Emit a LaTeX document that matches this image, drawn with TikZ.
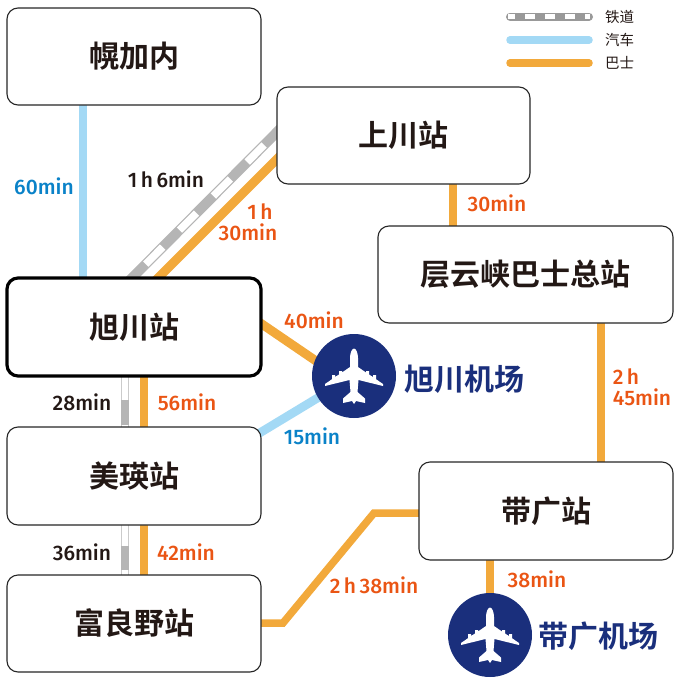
\documentclass[tikz,border=0pt]{standalone}
\usepackage{fontspec}
\newfontfamily\numfont{Fira Sans Medium}
\newfontfamily\cjk{Noto Sans CJK SC}[BoldFont={Noto Sans CJK SC Bold}]
\pgfdeclarelayer{lines}
\pgfsetlayers{lines,main}
\definecolor{busc}{HTML}{F2A93B}
\definecolor{carc}{HTML}{A3D9F5}
\definecolor{railc}{HTML}{B5B5B5}
\definecolor{orangetxt}{HTML}{EA5514}
\definecolor{bluetxt}{HTML}{0A82C8}
\definecolor{navy}{HTML}{1A2F7C}
\definecolor{inkc}{HTML}{231815}
\tikzset{
  x=1pt,y=-1pt,
  stationbox/.style={draw=black!85,line width=1.1pt,outer sep=0pt,rounded corners=11pt,fill=white,inner sep=0pt,
    font=\cjk\bfseries\fontsize{30}{32}\selectfont,text=inkc,anchor=north west},
  busline/.style={draw=busc,line width=7.5pt},
  busdiag/.style={draw=busc,line width=9pt},
  carline/.style={draw=carc,line width=7.5pt},
  cardiag/.style={draw=carc,line width=8.7pt},
  railbase/.style={draw=railc,line width=10pt},
  railwhite/.style={draw=white,line width=7.5pt},
  timelabel/.style={font=\numfont\fontsize{21}{23}\selectfont,inner sep=0pt,yshift=0.7pt},
  orangelabel/.style={timelabel,text=orangetxt},
  bluelabel/.style={timelabel,text=bluetxt},
  blacklabel/.style={timelabel,text=inkc},
  airportdisc/.style={circle,fill=navy,minimum size=84pt,inner sep=0pt,outer sep=0pt},
  airportname/.style={font=\cjk\bfseries\fontsize{30}{32}\selectfont,text=navy,inner sep=0pt},
  legendtext/.style={font=\cjk\fontsize{14.5}{16}\selectfont,text=inkc,inner sep=0pt,anchor=west},
  plane/.pic={
    \fill[white]
      (0,-27.5) .. controls (2,-27.5) and (4,-23) .. (4,-18) -- (4,-9)
      -- (12,-3.5) -- (12,-5) -- (15,-5) -- (15,-1.5) -- (19,1) -- (19,-1) -- (22,-1) -- (22,3.2)
      -- (29,8) -- (29,10) -- (4.5,4) -- (3.5,16) -- (11,22.5) -- (11,27) -- (2,25) -- (0,28)
      -- (-2,25) -- (-11,27) -- (-11,22.5) -- (-3.5,16) -- (-4.5,4) -- (-29,10) -- (-29,8)
      -- (-22,3.2) -- (-22,-1) -- (-19,-1) -- (-19,1) -- (-15,-1.5) -- (-15,-5) -- (-12,-5) -- (-12,-3.5)
      -- (-4,-9) -- (-4,-18) .. controls (-4,-23) and (-2,-27.5) .. (0,-27.5) -- cycle;
  }
}
\newcommand{\boxtext}[1]{\raisebox{1.5pt}{#1}}
\begin{document}
\begin{tikzpicture}
\useasboundingbox (0,0) rectangle (680,680);
% stations
\node[stationbox,minimum width=254pt,minimum height=97pt] (horokanai) at (7,8) {\boxtext{幌加内}};
\node[stationbox,minimum width=253pt,minimum height=97pt] (kamikawa) at (277,87) {\boxtext{上川站}};
\node[stationbox,minimum width=295pt,minimum height=97pt] (sounkyo) at (378,226) {\boxtext{层云峡巴士总站}};
\node[stationbox,draw=black,line width=3.2pt,minimum width=254pt,minimum height=98pt] (asahikawa) at (7,278) {\boxtext{旭川站}};
\node[stationbox,minimum width=254pt,minimum height=98pt] (biei) at (7,427) {\boxtext{美瑛站}};
\node[stationbox,minimum width=254pt,minimum height=97pt] (furano) at (7,575) {\boxtext{富良野站}};
\node[stationbox,minimum width=254pt,minimum height=98pt] (obihiro) at (419,462) {\boxtext{带广站}};
% airports
\node[airportdisc] (akj) at (354,376) {};
\node[airportdisc] (obo) at (490,635) {};
\pic at (akj.center) {plane};
\pic at (obo.center) {plane};
\node[airportname] (akjname) at (464,379) {旭川机场};
\node[airportname] (oboname) at (598,636) {带广机场};
% helper coordinates
\coordinate (kbend1) at (374,513);
\coordinate (kbend2) at (283,623);
\coordinate (akjin) at (330,370.5);
% connectors, on a layer under the boxes and discs
\begin{pgfonlayer}{lines}
\draw[carline] ([xshift=76pt]horokanai.south west) -- ([xshift=76pt]asahikawa.north west);
\draw[railbase] ([xshift=9pt,yshift=-36pt]kamikawa.north west) -- ([xshift=117pt,yshift=-8pt]asahikawa.north west);
\draw[railwhite,dash pattern=on 24pt off 24pt,dash phase=17pt] ([xshift=9pt,yshift=-36pt]kamikawa.north west) -- ([xshift=117pt,yshift=-8pt]asahikawa.north west);
\draw[busdiag] ([xshift=9pt,yshift=-63pt]kamikawa.north west) -- ([xshift=143pt,yshift=-8pt]asahikawa.north west);
\draw[busline] ([xshift=176pt]kamikawa.south west) -- ([xshift=75pt]sounkyo.north west);
\draw[busline] ([xshift=223pt]sounkyo.south west) -- ([xshift=182pt]obihiro.north west);
\draw[busdiag] ([xshift=-8pt,yshift=-40pt]asahikawa.north east) -- (akjin);
\draw[cardiag] ([xshift=-8pt,yshift=-10pt]biei.north east) -- (akj);
% rail and bus between asahikawa and biei
\draw[railc!70,line width=8pt] ([xshift=118pt]asahikawa.south west) -- ([xshift=118pt]biei.north west);
\draw[white,line width=5.5pt] ([xshift=118pt]asahikawa.south west) -- ([xshift=118pt]biei.north west);
\draw[railc,line width=8pt] ([xshift=118pt,yshift=27pt]biei.north west) -- ([xshift=118pt,yshift=2pt]biei.north west);
\draw[busline] ([xshift=137pt]asahikawa.south west) -- ([xshift=137pt]biei.north west);
% rail and bus between biei and furano
\draw[railc!70,line width=8pt] ([xshift=118pt]biei.south west) -- ([xshift=118pt]furano.north west);
\draw[white,line width=5.5pt] ([xshift=118pt]biei.south west) -- ([xshift=118pt]furano.north west);
\draw[railc,line width=8pt] ([xshift=118pt,yshift=29pt]furano.north west) -- ([xshift=118pt,yshift=5pt]furano.north west);
\draw[busline] ([xshift=137pt]biei.south west) -- ([xshift=137pt]furano.north west);
\draw[busline] ([yshift=-48pt]furano.north east) -- (kbend2) -- (kbend1) -- ([yshift=-51pt]obihiro.north west);
\draw[busline] ([xshift=71pt]obihiro.south west) -- (obo);
\end{pgfonlayer}
% labels
\node[bluelabel] (l1) at (44,187) {60min};
\node[blacklabel] (l2) at (166,180) {1\,h\,6min};
\node[orangelabel] (l3) at (260,212) {1\,h};
\node[orangelabel] (l4) at (248,233) {30min};
\node[orangelabel] (l5) at (497,204) {30min};
\node[orangelabel] (l6) at (314,321) {40min};
\node[bluelabel] (l7) at (312,437) {15min};
\node[blacklabel] (l8) at (82,403) {28min};
\node[orangelabel] (l9) at (187,403) {56min};
\node[blacklabel] (l10) at (82,553) {36min};
\node[orangelabel] (l11) at (186,553) {42min};
\node[orangelabel] (l12) at (626,377) {2\,h};
\node[orangelabel] (l13) at (642,398) {45min};
\node[orangelabel] (l14) at (374,586) {2\,h\,38min};
\node[orangelabel] (l15) at (537,580) {38min};
% legend
\coordinate (ra) at (510,16.5); \coordinate (rb) at (589,16.5);
\coordinate (ca) at (510,40); \coordinate (cb) at (589,40);
\coordinate (ba) at (510,63); \coordinate (bb) at (589,63);
\draw[draw=black!40,line width=8pt,line cap=round] (ra) -- (rb);
\draw[white,line width=4.5pt,dash pattern=on 10pt off 10pt,dash phase=3pt] ([xshift=-2pt]ra) -- ([xshift=1pt]rb);
\draw[carline,line cap=round] (ca) -- (cb);
\draw[busline,line cap=round] (ba) -- (bb);
\node[legendtext] (t1) at (605,16.5) {铁道};
\node[legendtext] (t2) at (605,40) {汽车};
\node[legendtext] (t3) at (605,63) {巴士};
\end{tikzpicture}
\end{document}
